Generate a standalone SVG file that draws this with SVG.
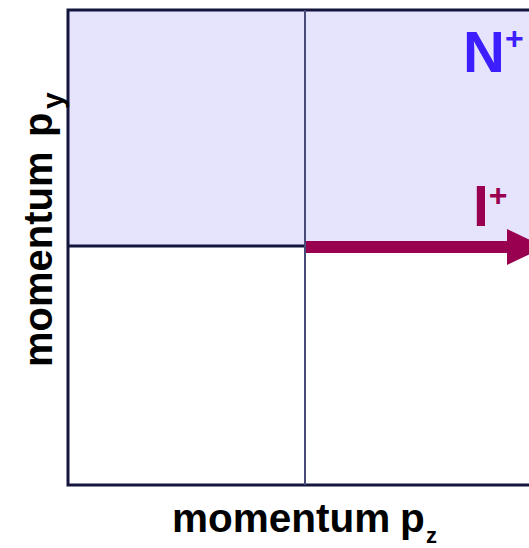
<svg xmlns="http://www.w3.org/2000/svg" width="529" height="548" viewBox="0 0 529 548">
<style>
.lbl{font-family:"Liberation Sans",Arial,sans-serif;font-weight:bold;fill:#000}
.frame{fill:none;stroke:#14143c;stroke-width:3}
.n{font-family:"Liberation Sans",Arial,sans-serif;font-weight:bold;fill:#3c1eff}
.l{font-family:"Liberation Sans",Arial,sans-serif;font-weight:bold;fill:#99004f}
</style>
<rect width="529" height="548" fill="#fff"/>
<g id="plot">
<rect x="68" y="10" width="470" height="236" fill="#e6e3fd"/>
<rect class="frame" x="68" y="10" width="480" height="475"/>
<line x1="68" y1="246" x2="305" y2="246" stroke="#14143c" stroke-width="3"/>
<line x1="305" y1="10" x2="305" y2="485" stroke="#4a4a78" stroke-width="2"/>
</g>
<g id="arrow">
<rect x="306" y="241" width="202" height="12" fill="#99004f"/>
<polygon points="507,229 545,247 507,265" fill="#99004f"/>
</g>
<g id="labels">
<text class="n" x="463" y="72" font-size="58">N<tspan font-size="32" dy="-23">+</tspan></text>
<text class="l" x="473" y="226" font-size="57">I<tspan font-size="32" dy="-20">+</tspan></text>
<text class="lbl" font-size="40.5" x="172" y="532">momentum<tspan x="400">p</tspan><tspan x="426" font-size="22" dy="11">z</tspan></text>
<text class="lbl" font-size="40" transform="translate(52,367) rotate(-90)">momentum<tspan x="230">p</tspan><tspan x="258" font-size="30" dy="11">y</tspan></text>
</g>
</svg>
